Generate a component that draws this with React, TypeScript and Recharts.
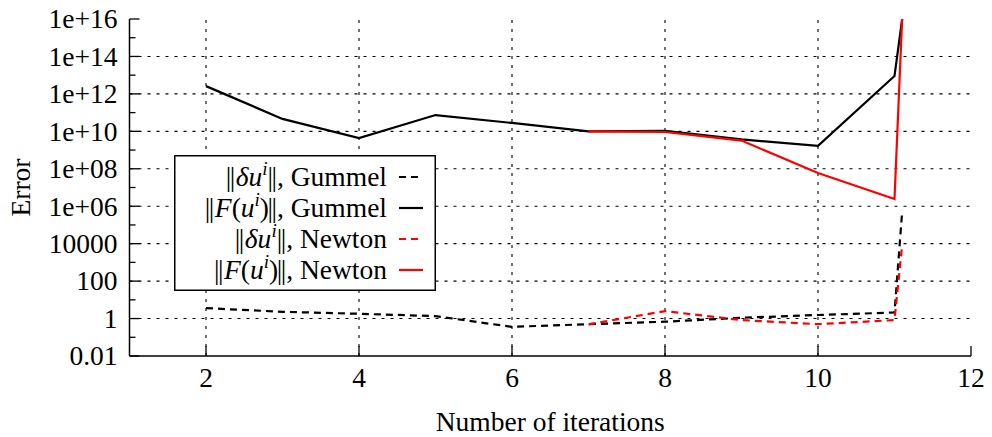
import React from "react"
import { LineChart, Line, XAxis, YAxis, ReferenceLine, Legend } from "recharts"

const iterations = [2, 3, 4, 5, 6, 7, 8, 9, 10, 11, 11.1]
const gummelDelta = [3.6, 2.3, 1.8, 1.35, 0.36, 0.5, 0.68, 1.1, 1.55, 2.1, 5e5]
const gummelResidual = [2.6e12, 4.6e10, 4.4e9, 7.4e10, 2.8e10, 1.0e10, 1.05e10, 3.7e9, 1.7e9, 9e12, 1e16]
const newtonDelta = [null, null, null, null, null, 0.49, 2.5, 0.83, 0.5, 0.83, 8.5e3]
const newtonResidual = [null, null, null, null, null, 1.0e10, 9.2e9, 3.2e9, 6.0e7, 2.4e6, 1e16]

const xTicks = [2, 4, 6, 8, 10, 12]
const xGrid = [2, 4, 6, 8, 10]
const yMajor = [1e-2, 1, 1e2, 1e4, 1e6, 1e8, 1e10, 1e12, 1e14, 1e16]
const yTicks = [
  1e-2, 1e-1, 1, 1e1, 1e2, 1e3, 1e4, 1e5, 1e6, 1e7, 1e8, 1e9, 1e10, 1e11, 1e12, 1e13, 1e14, 1e15, 1e16,
]
const yGrid = [1, 1e2, 1e4, 1e6, 1e8, 1e10, 1e12, 1e14]

const data = iterations.map((it, i) => ({
  it,
  gd: gummelDelta[i],
  gf: gummelResidual[i],
  nd: newtonDelta[i],
  nf: newtonResidual[i],
}))

const FONT = "'Liberation Serif', 'DejaVu Serif', serif"
const FS = 27.5

const isMajor = (v: number) => yMajor.some((m) => Math.abs(Math.log10(m) - Math.log10(v)) < 1e-6)

const fmt = (v: number) => {
  if (v < 1e5) return String(v)
  const e = Math.round(Math.log10(v))
  return "1e+" + String(e).padStart(2, "0")
}

const LeftTick = (props: any) => {
  const { x, y, payload } = props
  const major = isMajor(payload.value)
  return (
    <g>
      <line x1={x} x2={x + (major ? 10 : 6)} y1={y} y2={y} stroke="#000" strokeWidth={1.3} />
      {major && (
        <text x={x - 12} y={y} dy="0.34em" textAnchor="end" fontFamily={FONT} fontSize={FS} fill="#000">
          {fmt(payload.value)}
        </text>
      )}
    </g>
  )
}

const RightTick = (props: any) => {
  const { x, y, payload } = props
  const major = isMajor(payload.value)
  return <line x1={x} x2={x - (major ? 10 : 6)} y1={y} y2={y} stroke="#000" strokeWidth={1.3} />
}

const BottomTick = (props: any) => {
  const { x, y, payload } = props
  return (
    <g>
      <line x1={x} x2={x} y1={y} y2={y - 10} stroke="#000" strokeWidth={1.3} />
      <text x={x} y={y + 31} textAnchor="middle" fontFamily={FONT} fontSize={FS} fill="#000">
        {payload.value}
      </text>
    </g>
  )
}

const TopTick = (props: any) => {
  const { x, y } = props
  return <line x1={x} x2={x} y1={y} y2={y + 10} stroke="#000" strokeWidth={1.3} />
}

// legend rows: kind "d" = ||δu^i||, kind "f" = ||F(u^i)||
const legendRows = [
  { kind: "d", name: "Gummel", color: "#000", dash: "7 5" },
  { kind: "f", name: "Gummel", color: "#000", dash: "" },
  { kind: "d", name: "Newton", color: "#ff0000", dash: "7 5" },
  { kind: "f", name: "Newton", color: "#ff0000", dash: "" },
]

const LegendLabel = ({ kind, name, y }: { kind: string; name: string; y: number }) => (
  <text x={213} y={y} textAnchor="end" fontFamily={FONT} fontSize={FS} fill="#000">
    <tspan letterSpacing={-1.5}>||</tspan>
    {kind === "f" ? (
      <>
        <tspan dx={2} fontStyle="italic">F</tspan>
        <tspan>(</tspan>
        <tspan fontStyle="italic">u</tspan>
      </>
    ) : (
      <tspan dx={2} fontStyle="italic">δu</tspan>
    )}
    <tspan fontStyle="italic" fontSize={19} dy={-11}>
      i
    </tspan>
    <tspan dy={11} letterSpacing={-1.5}>
      {kind === "f" ? ")||" : "||"}
    </tspan>
    <tspan dx={1.5}>, {name}</tspan>
  </text>
)

const renderLegend = () => (
  <svg width={262} height={136} style={{ display: "block" }}>
    <rect x={0.75} y={0.75} width={260.5} height={134.5} fill="#fff" stroke="#000" strokeWidth={1.5} />
    {legendRows.map((r, i) => {
      const cy = 22 + i * 31
      return (
        <g key={i}>
          <LegendLabel kind={r.kind} name={r.name} y={cy + 9} />
          <line x1={225} x2={249} y1={cy} y2={cy} stroke={r.color} strokeWidth={2.2} strokeDasharray={r.dash} />
        </g>
      )
    })}
  </svg>
)

export default function App() {
  return (
    <div style={{ position: "fixed", left: 0, top: 0, background: "#fff", fontFamily: FONT }}>
      <LineChart width={992} height={437} data={data} margin={{ top: 19, right: 21, bottom: 0, left: 0 }}>
        <XAxis
          dataKey="it"
          type="number"
          domain={[1, 12]}
          ticks={xTicks}
          allowDataOverflow
          height={81}
          tickSize={0}
          tickMargin={0}
          tickLine={false}
          tick={<BottomTick />}
          axisLine={{ stroke: "#000", strokeWidth: 1.5 }}
          label={{
            content: (p: any) => (
              <text
                x={p.viewBox.x + p.viewBox.width / 2}
                y={p.viewBox.y + 75}
                textAnchor="middle"
                fontFamily={FONT}
                fontSize={FS}
              >
                Number of iterations
              </text>
            ),
          }}
        />
        <XAxis
          xAxisId="top"
          orientation="top"
          dataKey="it"
          type="number"
          domain={[1, 12]}
          ticks={xGrid}
          height={0}
          tickSize={0}
          tickMargin={0}
          tickLine={false}
          tick={<TopTick />}
          axisLine={{ stroke: "#000", strokeWidth: 1.5 }}
        />
        <YAxis
          scale="log"
          domain={[1e-2, 1e16]}
          ticks={yTicks}
          allowDataOverflow
          interval={0}
          width={129.5}
          tickSize={0}
          tickMargin={0}
          tickLine={false}
          tick={<LeftTick />}
          axisLine={{ stroke: "#000", strokeWidth: 1.5 }}
          label={{
            content: (p: any) => (
              <text
                x={p.viewBox.x + 20}
                y={p.viewBox.y + p.viewBox.height / 2}
                transform={`rotate(-90 ${p.viewBox.x + 20} ${p.viewBox.y + p.viewBox.height / 2})`}
                textAnchor="middle"
                dy="0.35em"
                fontFamily={FONT}
                fontSize={FS}
              >
                Error
              </text>
            ),
          }}
        />
        <YAxis
          yAxisId="r"
          orientation="right"
          scale="log"
          domain={[1e-2, 1e16]}
          ticks={yTicks}
          interval={0}
          width={0}
          tickSize={0}
          tickMargin={0}
          tickLine={false}
          tick={<RightTick />}
          axisLine={{ stroke: "#000", strokeWidth: 1.5 }}
        />
        {yGrid.map((v) => (
          <ReferenceLine key={"y" + v} y={v} stroke="#000" strokeWidth={1.1} strokeDasharray="3 6" />
        ))}
        {xGrid.map((v) => (
          <ReferenceLine key={"x" + v} x={v} stroke="#000" strokeWidth={1.1} strokeDasharray="3 6" />
        ))}
        <Line dataKey="gd" stroke="#000" strokeWidth={2.2} strokeDasharray="7 5" dot={false} isAnimationActive={false} />
        <Line dataKey="gf" stroke="#000" strokeWidth={2.2} dot={false} isAnimationActive={false} />
        <Line dataKey="nd" stroke="#ff0000" strokeWidth={2.2} strokeDasharray="7 5" dot={false} isAnimationActive={false} />
        <Line dataKey="nf" stroke="#ff0000" strokeWidth={2.2} dot={false} isAnimationActive={false} />
        <Legend
          layout="vertical"
          align="center"
          verticalAlign="middle"
          content={renderLegend}
          wrapperStyle={{ left: 174, top: 155, width: 262, height: 136 }}
        />
      </LineChart>
    </div>
  )
}
